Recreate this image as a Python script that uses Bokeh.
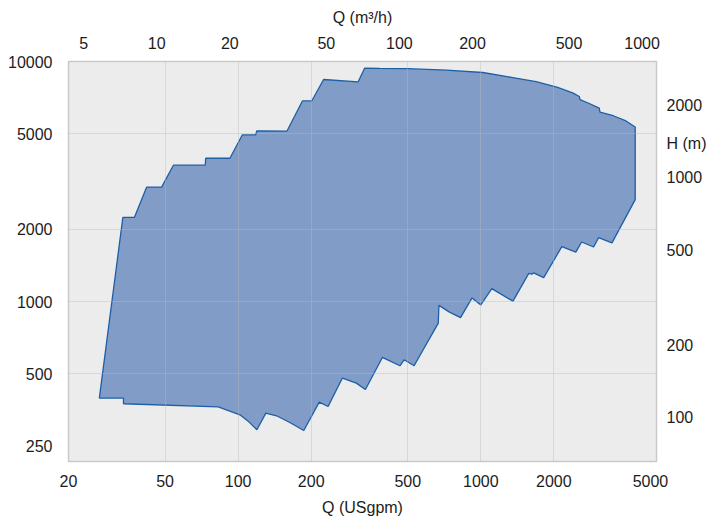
from bokeh.plotting import figure
from bokeh.models import (LogAxis, Range1d, FixedTicker, ColumnDataSource,
                          LogScale, NumeralTickFormatter, CustomJSTickFormatter)
from bokeh.embed import file_html
from bokeh.resources import INLINE

# ---------------- data ----------------
# Upper boundary of the pump performance envelope, left -> right: Q (USgpm), H (ft)
q_top = [26.8, 33.5, 37.4, 42.0, 48.4, 54.1, 73.2, 73.5, 92.5, 104, 118, 119.5, 159,
         184, 201, 225, 312, 332, 383, 501, 721, 1019, 1354, 1690, 2073, 2390, 2546,
         2563, 2799, 3077, 3098, 3514, 3964, 4327, 4327]
h_top = [397, 2245, 2245, 3000, 3000, 3700, 3700, 3955, 3955, 4945, 4945, 5145, 5135,
         6850, 6850, 8415, 8220, 9380, 9360, 9335, 9200, 9000, 8575, 8240, 7795, 7400, 7150,
         6945, 6685, 6400, 6150, 5945, 5655, 5340, 2660]

# Lower boundary of the envelope, left -> right: Q (USgpm), H (ft)
q_bottom = [33.7, 33.7, 82.8, 101.7, 110.7, 119.5, 130.1, 144.0, 163.3, 186.4, 215.9, 234.8,
            269, 307, 334.5, 393, 464, 483, 531, 668, 672, 743, 825, 920, 1000, 1110, 1357,
            1576, 1621, 1652, 1816, 2157, 2463, 2603, 2916, 3057, 3471]
h_bottom = [397, 376, 365, 338, 316, 293, 343.5, 335, 314, 291, 382, 366,
            481, 458, 431, 586, 541, 573, 541, 814, 965, 905, 858, 1037, 970, 1133, 1005,
            1312, 1303, 1318, 1260, 1695, 1609, 1772, 1689, 1849, 1758]

# axis ticks
q_gpm_ticks = [20, 50, 100, 200, 500, 1000, 2000, 5000]
h_ft_ticks = [250, 500, 1000, 2000, 5000, 10000]
q_m3h_ticks = [5, 10, 20, 50, 100, 200, 500, 1000]
h_m_ticks = [100, 200, 500, 1000, 2000]
q_grid = [50, 100, 200, 500, 1000, 2000]
h_grid = [500, 1000, 2000, 5000]

Q_MIN, Q_MAX = 20, 5296          # USgpm
H_MIN, H_MAX = 216.1, 10000      # ft
GPM_PER_M3H = 4.62               # ratio of the chart's top scale to its bottom scale
FT_PER_M = 3.281
H_LABEL_M = 1390                 # height (m) at which the "H (m)" caption sits
H_LABEL_TEXT = "H (m)"

FONT = "Liberation Sans"
FS = "16px"
TXT = "#1c1c1c"

# ---------------- figure ----------------
p = figure(width=709, height=520, x_axis_type="log", y_axis_type="log",
           x_range=Range1d(Q_MIN, Q_MAX), y_range=Range1d(H_MIN, H_MAX),
           output_backend="svg", toolbar_location=None,
           min_border_left=68, min_border_right=52, min_border_top=61, min_border_bottom=59)

p.background_fill_color = "#ebeceb"
p.border_fill_color = "white"
p.outline_line_color = "#c9c9c9"
p.outline_line_width = 1.5

p.extra_x_ranges = {"m3h": Range1d(Q_MIN / GPM_PER_M3H, Q_MAX / GPM_PER_M3H)}
p.extra_x_scales = {"m3h": LogScale()}
p.extra_y_ranges = {"m": Range1d(H_MIN / FT_PER_M, H_MAX / FT_PER_M)}
p.extra_y_scales = {"m": LogScale()}

xs = q_top + q_bottom[::-1]
ys = h_top + h_bottom[::-1]
src = ColumnDataSource(dict(q=xs, h=ys))
p.patch("q", "h", source=src, fill_color="#819cc6", fill_alpha=1.0,
        line_color="#1d5fa7", line_width=1.3)

# grids above the fill
p.xgrid.ticker = FixedTicker(ticks=q_grid)
p.ygrid.ticker = FixedTicker(ticks=h_grid)
for g in (p.xgrid, p.ygrid):
    g.grid_line_color = "#b8bcbc"
    g.grid_line_alpha = 0.4
    g.grid_line_width = 1
    g.level = "overlay"


def style(ax, standoff):
    ax.axis_line_color = None
    ax.major_tick_line_color = None
    ax.minor_tick_line_color = None
    ax.major_tick_out = 0
    ax.minor_tick_out = 0
    ax.major_tick_in = 0
    ax.minor_tick_in = 0
    ax.major_label_standoff = standoff
    ax.major_label_text_font = FONT
    ax.major_label_text_font_size = FS
    ax.major_label_text_color = TXT
    ax.axis_label_text_font = FONT
    ax.axis_label_text_font_size = FS
    ax.axis_label_text_font_style = "normal"
    ax.axis_label_text_color = TXT
    ax.formatter = NumeralTickFormatter(format="0")


# bottom
xb = p.xaxis[0]
xb.ticker = FixedTicker(ticks=q_gpm_ticks)
xb.axis_label = "Q (USgpm)"
style(xb, 13)
xb.axis_label_standoff = 9

# left
yl = p.yaxis[0]
yl.ticker = FixedTicker(ticks=h_ft_ticks)
style(yl, 16)

# top (m3/h)
xt = LogAxis(x_range_name="m3h", ticker=FixedTicker(ticks=q_m3h_ticks), axis_label="Q (m³/h)")
style(xt, 13)
xt.axis_label_standoff = 8
p.add_layout(xt, "above")

# right (m), with the "H (m)" caption set among its labels
yr = LogAxis(y_range_name="m", ticker=FixedTicker(ticks=h_m_ticks + [H_LABEL_M]))
style(yr, 10)
yr.formatter = CustomJSTickFormatter(
    args=dict(at=H_LABEL_M, caption=H_LABEL_TEXT),
    code="return Math.abs(tick - at) < 0.5 ? caption : tick.toFixed(0);")
p.add_layout(yr, "right")

open("out.html", "w").write(file_html(p, INLINE))
